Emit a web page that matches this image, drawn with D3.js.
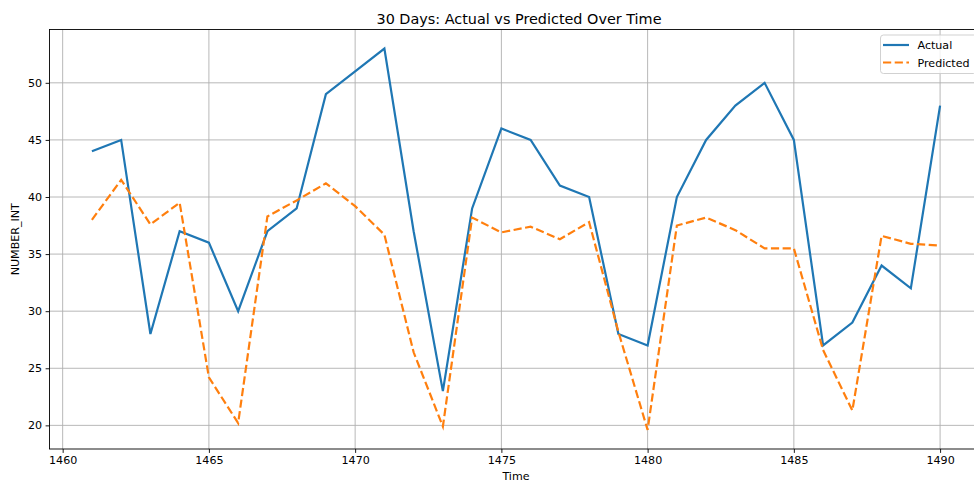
<!DOCTYPE html>
<html>
<head>
<meta charset="utf-8">
<script src="https://cdn.jsdelivr.net/npm/d3@7"></script>
<style>
  html, body { margin: 0; padding: 0; background: #fff; overflow: hidden; }
  svg { display: block; font-family: "DejaVu Sans", sans-serif; }
</style>
</head>
<body>
<svg id="chart" width="974" height="482"></svg>
<script>
// Daily values, days 1461–1490
const days = d3.range(1461, 1491);
const actual = [44, 45, 28, 37, 36, 30, 37, 39, 49, 51,
                53, 37, 23, 39, 46, 45, 41, 40, 28, 27,
                40, 45, 48, 50, 45, 27, 29, 34, 32, 48];
const predicted = [38.0, 41.5, 37.6, 39.5, 24.2, 20.2, 38.3, 39.7, 41.2, 39.2,
                   36.7, 26.4, 19.9, 38.2, 36.9, 37.4, 36.3, 37.8, 28.2, 19.6,
                   37.5, 38.2, 37.1, 35.5, 35.5, 26.6, 21.3, 36.6, 35.9, 35.75];
const xTicks = [1460, 1465, 1470, 1475, 1480, 1485, 1490];
const yTicks = [20, 25, 30, 35, 40, 45, 50];
const seriesNames = ["Actual", "Predicted"];
const seriesColors = ["#1f77b4", "#ff7f0e"];

const margin = { left: 49.5, top: 29.5 };
const plotW = 933, plotH = 419.5;

const svg = d3.select("#chart");

// 5% padding around the data range on both axes
function padded(ext) {
  const p = (ext[1] - ext[0]) * 0.05;
  return [ext[0] - p, ext[1] + p];
}
const x = d3.scaleLinear()
  .domain(padded(d3.extent(days)))
  .range([margin.left, margin.left + plotW]);
const y = d3.scaleLinear()
  .domain(padded(d3.extent(actual.concat(predicted))))
  .range([margin.top + plotH, margin.top]);

// grid
const grid = svg.append("g");
grid.selectAll(".gx").data(xTicks).join("line")
  .attr("x1", d => x(d)).attr("x2", d => x(d))
  .attr("y1", margin.top).attr("y2", margin.top + plotH)
  .attr("stroke", "#b0b0b0").attr("stroke-width", 0.9);
grid.selectAll(".gy").data(yTicks).join("line")
  .attr("x1", margin.left).attr("x2", margin.left + plotW)
  .attr("y1", d => y(d)).attr("y2", d => y(d))
  .attr("stroke", "#b0b0b0").attr("stroke-width", 0.9);

// series lines
const line = vals => d3.line()
  .x((d, i) => x(days[i]))
  .y(d => y(d))(vals);

svg.append("path")
  .attr("d", line(actual))
  .attr("fill", "none")
  .attr("stroke", seriesColors[0])
  .attr("stroke-width", 2.2)
  .attr("stroke-linejoin", "miter");

svg.append("path")
  .attr("d", line(predicted))
  .attr("fill", "none")
  .attr("stroke", seriesColors[1])
  .attr("stroke-width", 2.2)
  .attr("stroke-dasharray", "8.2,3.5");

// axes
const xAxis = svg.append("g")
  .attr("transform", `translate(0,${margin.top + plotH})`)
  .call(d3.axisBottom(x).tickValues(xTicks).tickSizeOuter(0).tickSize(3.9).tickPadding(3.5).tickFormat(d3.format("d")));
const yAxis = svg.append("g")
  .attr("transform", `translate(${margin.left},0)`)
  .call(d3.axisLeft(y).tickValues(yTicks).tickSizeOuter(0).tickSize(3.9).tickPadding(3.5).tickFormat(d3.format("d")));
[xAxis, yAxis].forEach(g => {
  g.select(".domain").remove();
  g.selectAll("text").attr("font-size", 11.1).attr("fill", "#000")
    .attr("font-family", "DejaVu Sans, sans-serif");
  g.selectAll("line").attr("stroke", "#000").attr("stroke-width", 0.9);
});

// spines
svg.append("rect")
  .attr("x", margin.left).attr("y", margin.top)
  .attr("width", plotW).attr("height", plotH)
  .attr("fill", "none").attr("stroke", "#000").attr("stroke-width", 0.9);

// title and axis labels
svg.append("text")
  .attr("x", margin.left + plotW / 2 + 3).attr("y", 24)
  .attr("text-anchor", "middle").attr("font-size", 14.4)
  .text("30 Days: Actual vs Predicted Over Time");
svg.append("text")
  .attr("x", margin.left + plotW / 2).attr("y", 480)
  .attr("text-anchor", "middle").attr("font-size", 11.1)
  .text("Time");
svg.append("text")
  .attr("transform", `translate(19,${margin.top + plotH / 2}) rotate(-90)`)
  .attr("text-anchor", "middle").attr("font-size", 11.1)
  .text("NUMBER_INT");

// legend
const lg = svg.append("g").attr("transform", "translate(880.5,35)");
lg.append("rect")
  .attr("width", 96).attr("height", 38.5).attr("rx", 3)
  .attr("fill", "#fff").attr("fill-opacity", 0.8)
  .attr("stroke", "#cccccc").attr("stroke-width", 0.9);
seriesNames.forEach((name, i) => {
  const yy = 10 + i * 17.5;
  lg.append("line")
    .attr("x1", 2.5).attr("x2", 28.5).attr("y1", yy).attr("y2", yy)
    .attr("stroke", seriesColors[i]).attr("stroke-width", 2.2)
    .attr("stroke-dasharray", i === 1 ? "8.2,3.5" : null);
  lg.append("text")
    .attr("x", 37).attr("y", yy + 4)
    .attr("font-size", 11.1)
    .text(name);
});
</script>
</body>
</html>
